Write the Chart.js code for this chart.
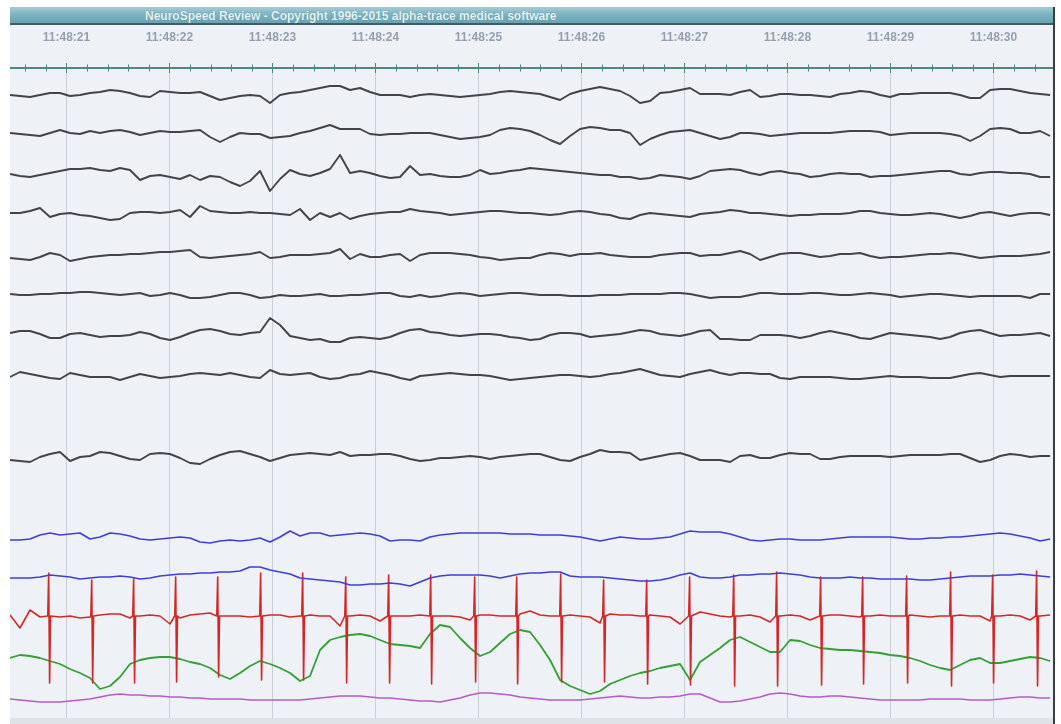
<!DOCTYPE html>
<html>
<head>
<meta charset="utf-8">
<script src="https://cdn.jsdelivr.net/npm/chart.js@4/dist/chart.umd.min.js"></script>
<style>
  html, body { margin: 0; padding: 0; background: #ffffff; width: 1061px; height: 724px; overflow: hidden; }
  #frame { position: absolute; left: 10px; top: 7px; width: 1043px; height: 717px; background: #dfe3e8; border-right: 2px solid #3a3f44; }
  #plotbg { position: absolute; left: 0; top: 0; width: 1043px; height: 711px; background: #eef1f5; }
  #title { position: absolute; left: 0; top: 0; width: 1043px; height: 18px;
           background: linear-gradient(#a3ccd6, #7db4c1 45%, #68a2b2);
           border-bottom: 2px solid #3f5d65;
           font: bold 12px "Liberation Sans", Arial, sans-serif; color: #e4f1f5;
           line-height: 18px; padding-left: 135px; box-sizing: border-box; white-space: nowrap;
           text-shadow: 0 0 1px rgba(60,100,110,0.6); }
  #wrap { position: absolute; left: 10px; top: 27px; width: 1043px; height: 691px; }
</style>
</head>
<body>
<div id="frame"><div id="plotbg"></div><div id="title">NeuroSpeed Review - Copyright 1996-2015 alpha-trace medical software</div></div>
<div id="wrap"><canvas id="c"></canvas></div>
<script>
// ---- time axis (seconds after 11:48:00) ----
const TICK_SECONDS = [21, 22, 23, 24, 25, 26, 27, 28, 29, 30];
const TIME_LABELS = ["11:48:21","11:48:22","11:48:23","11:48:24","11:48:25","11:48:26","11:48:27","11:48:28","11:48:29","11:48:30"];
const VIEW_START = 20.4515, VIEW_END = 30.578;
const SAMPLE_START = 20.4515, SAMPLE_STEP = 0.0971;

// ---- channel traces (amplitude per sample, up = positive) ----
const EEG1 = [0,-1,-2,0,2,2,-1,0,2,3, 5,4,2,-1,-2,4,3,2,2,3, -1,-5,-3,-1,0,-1,-8,0,2,3, 5,7,9,9,5,7,3,0,0,0, -2,0,1,0,-1,-2,-1,0,1,3, 4,3,2,1,-2,-5,1,4,6,8, 6,4,-1,-8,-6,2,3,5,7,1, 1,1,0,3,5,-2,-1,1,1,0, 0,-1,-2,1,2,4,3,0,-2,1, 1,2,2,2,2,0,-3,-3,5,6, 6,4,2,1,0];
const EEG2 = [0,-1,-2,-3,0,3,0,-1,2,0, 2,3,1,-2,0,2,1,1,2,3, -4,-9,-4,0,-1,-1,-5,-4,-3,0, 2,5,8,4,4,4,-1,-2,-1,-1, 0,0,0,-2,-4,-6,-5,-4,-2,3, 5,4,2,-2,-7,-11,-3,4,6,5, 3,3,0,-12,-6,-2,1,2,3,0, -3,-6,-4,0,0,-1,-3,-2,-1,0, 0,0,0,1,2,2,2,1,-2,-1, 0,0,0,0,-1,-3,-8,-3,4,5, 4,0,0,2,-3];
const EEG3 = [-1,-3,-4,-2,0,2,4,4,5,3, 2,5,3,-7,-3,-2,-4,-6,-2,-7, -3,-4,-9,-13,-8,2,-18,-6,3,-1, -3,0,4,18,0,2,0,-3,-5,-4, 7,-2,-1,-3,-4,-4,-2,3,-1,0, 2,3,5,4,3,2,1,0,-1,-2, -2,-4,-4,-6,-5,-2,-3,-4,-6,-3, 2,3,4,3,0,-2,1,2,0,-1, -4,-3,-1,0,-1,-1,-4,-3,-3,-2, -1,0,1,2,2,-1,-2,0,1,1, 0,0,-1,-4,-4];
const EEG4 = [0,0,2,5,-4,-1,0,-2,-3,-5, -7,-6,0,1,1,0,1,3,-4,7, 2,1,0,0,1,0,0,-1,-2,4, -7,0,-4,0,-6,-3,-1,0,1,1, 4,2,1,0,-2,-1,0,1,2,2, 1,0,0,-1,-2,-1,1,2,1,-1, -2,-5,-6,-2,0,-1,-2,-3,-4,-1, 0,1,3,2,0,0,-1,-2,-3,-2, -2,-1,-1,-1,0,2,2,0,-1,-2, -2,-1,0,-1,-3,-5,-3,0,1,-1, -3,-1,0,0,-2];
const EEG5 = [-2,-3,-4,-1,3,1,-5,-3,-1,0, 1,1,2,2,3,4,4,5,6,-1, -2,-1,0,1,2,4,-2,-1,1,1, 1,2,3,7,-3,2,-1,-1,1,2, -5,1,3,3,3,2,1,-1,-2,-4, -3,-2,-2,1,3,2,0,2,2,3, 1,0,-1,-1,-1,1,2,3,3,0, 1,1,3,5,2,-4,-1,2,3,3, 1,-1,0,2,2,3,0,-2,-1,-1, 0,1,2,2,3,2,0,-2,-1,0, 0,0,1,2,4];
const EEG6 = [1,0,0,1,1,2,2,3,3,2, 1,0,1,2,-1,0,2,0,-3,-3, -2,0,2,2,0,-3,-2,0,-1,-1, 0,1,-1,-1,0,0,1,2,2,-1, -2,0,-2,-1,1,2,1,-1,0,1, 2,2,1,0,0,0,-1,-1,-1,0, 0,0,1,1,1,1,2,2,1,-1, -3,-2,-2,-2,0,2,2,1,1,1, 2,2,1,0,0,1,2,1,0,-2, -1,0,1,1,0,-1,-2,-1,-1,-1, -1,-1,-3,1,1];
const EEG7 = [2,4,4,1,-3,-3,1,2,0,-2, -1,-1,0,3,1,-3,-5,-2,2,5, 6,4,1,0,2,3,17,10,-1,-3, -5,-4,-7,-7,-3,-2,-3,-4,-2,2, 5,6,3,2,0,-1,0,1,1,0, -2,-3,-5,-4,0,2,2,1,-2,-1, 0,1,3,5,4,1,0,-1,1,4, 5,-4,-4,-5,-5,0,0,0,-1,-3, -1,2,4,2,0,-3,-4,-1,2,1, 0,-1,-2,-4,-2,2,4,5,2,-1, 0,0,1,2,-1];
const EEG8 = [-1,4,2,0,-2,-3,3,1,-1,-1, -1,-4,-1,2,0,-2,-1,0,2,3, 2,1,3,1,-1,-2,6,2,1,2, 3,-1,-3,-2,1,2,5,3,1,-2, -4,0,1,2,3,2,1,1,0,-2, -4,-3,-2,-1,0,1,1,0,-1,0, 2,3,5,7,4,1,0,-1,2,4, 6,3,1,3,3,2,2,-2,-3,-1, -1,-1,-1,-2,-3,-3,-2,-1,0,-1, -1,-1,-2,-2,-2,0,2,3,1,-1, 0,0,0,0,0];
const EEG9 = [-3,-4,-5,0,3,5,-4,0,1,5, 4,1,-2,-3,3,4,3,-1,-6,-7, -2,2,5,6,3,0,-4,-1,2,3, 4,3,2,5,1,2,2,3,3,1, -2,-4,-3,-1,-1,0,1,0,-2,0, 1,2,3,3,0,-3,-4,0,3,7, 5,5,4,-3,-1,1,3,4,1,-3, -3,-3,-5,1,2,-1,-1,2,4,3, 3,-2,-2,0,1,1,1,1,0,1, 2,2,2,2,3,3,-1,-5,-3,1, 3,2,0,1,1];
const RESP1 = [-3,-3,-2,2,4,2,3,4,-2,0, 4,3,1,-2,-3,-2,-1,0,-1,-5, -6,-4,-3,-4,-3,-1,-5,0,6,1, 4,4,1,2,3,4,3,1,-4,-3, -3,-4,0,2,3,4,4,4,4,4, 3,3,3,2,2,2,1,0,-2,-4, -2,0,-1,-2,-2,-1,0,3,6,5, 5,5,3,0,-3,-4,-3,-2,-2,-3, -3,-3,-2,-1,0,0,0,0,0,-1, -2,-2,-1,-1,0,0,1,2,3,4, 3,1,-1,-4,-2];
const RESP2 = [-1,-1,-1,0,2,1,0,-2,-1,0, 0,1,0,-2,-1,1,2,3,3,4, 4,5,5,6,10,10,7,5,3,-1, -2,-3,-4,-5,-8,-8,-7,-7,-6,-7, -9,-5,-1,1,2,2,2,2,1,-1, 1,3,4,4,5,5,1,0,0,0, -1,-2,-3,-4,-4,-3,-1,2,4,0, -1,-1,0,2,2,3,3,4,3,2, 0,-1,-1,-1,0,-1,-1,-2,-2,-2, -2,-3,-3,-2,-1,0,1,1,1,2, 2,3,2,1,0];
const ECG_BASE = [1,-12,6,-1,1,-1,0,-2,-1,1, 2,2,-2,0,1,0,-8,-2,1,2, 3,1,0,0,-1,0,1,1,-1,0, 1,0,0,-10,0,1,0,-5,-1,0, 0,1,1,0,0,-1,-4,1,1,0, 0,2,5,1,0,-1,1,0,-1,-7, 2,1,1,0,1,0,-1,-8,3,4, 2,0,-1,0,1,-1,-6,0,1,0, -4,0,1,1,0,-1,0,1,0,0, 1,0,-1,0,-1,1,0,0,-5,0, 1,0,-4,0,1];
const ECG_BEATS = [20.830,21.248,21.655,22.063,22.471,22.888,23.296,23.714,24.131,24.539,24.966,25.374,25.801,26.218,26.636,27.053,27.481,27.898,28.325,28.733,29.160,29.587,29.995,30.422];
const ECG_R = [43,36,37,39,39,43,43,39,41,41,39,39,42,36,36,39,41,44,39,39,40,44,41,45];
const ECG_S = [-67,-67,-67,-66,-61,-64,-64,-67,-67,-68,-66,-68,-66,-66,-68,-69,-70,-70,-69,-68,-67,-70,-67,-70];
const PLETH = [-3,0,-1,-3,-6,-9,-14,-18,-23,-34, -31,-22,-9,-5,-3,-2,-2,-4,-7,-9, -13,-20,-24,-18,-11,-6,-9,-13,-18,-26, -21,5,15,18,20,21,19,15,11,10, 9,7,21,30,28,17,7,-1,3,12, 21,25,23,10,-5,-25,-31,-35,-39,-36, -29,-25,-21,-18,-16,-13,-11,-9,-25,-7, 0,7,15,18,13,8,3,3,15,14, 10,7,6,5,5,4,3,2,0,-1, -3,-6,-10,-13,-15,-10,-5,-3,-8,-8, -6,-4,-2,-3,-6];
const TEMP = [-1,-2,-3,-4,-4,-4,-3,-2,-1,1, 3,4,3,3,2,2,1,1,0,0, -1,-1,-1,-1,-2,-2,-2,-2,-2,-2, -1,0,1,2,2,2,1,0,0,-1, -2,-3,-3,-4,-2,0,3,5,5,4, 3,1,0,-1,-2,-2,-2,-2,-1,0, 1,2,1,0,0,1,1,2,4,4, 0,-4,-4,-3,-1,1,4,5,4,2, 1,1,2,2,1,0,-1,-2,-2,-2, -2,-2,-1,-1,-1,-1,-2,-2,-2,-1, 0,1,1,0,0];

// ---- montage: vertical offset of each channel (display units) and colours ----
const CHANNELS = [
  {name:"EEG1", values:EEG1, offset:623, color:"#46424a", width:1.9},
  {name:"EEG2", values:EEG2, offset:585, color:"#46424a", width:1.9},
  {name:"EEG3", values:EEG3, offset:545, color:"#46424a", width:1.9},
  {name:"EEG4", values:EEG4, offset:505, color:"#46424a", width:1.9},
  {name:"EEG5", values:EEG5, offset:462, color:"#46424a", width:1.9},
  {name:"EEG6", values:EEG6, offset:423, color:"#46424a", width:1.9},
  {name:"EEG7", values:EEG7, offset:383, color:"#46424a", width:1.9},
  {name:"EEG8", values:EEG8, offset:342, color:"#46424a", width:1.9},
  {name:"EEG9", values:EEG9, offset:261, color:"#46424a", width:1.9},
  {name:"RESP1", values:RESP1, offset:181, color:"#3f3fd6", width:1.7},
  {name:"RESP2", values:RESP2, offset:141, color:"#3f3fd6", width:1.7},
  {name:"PLETH", values:PLETH, offset:63, color:"#33a033", width:1.8},
  {name:"TEMP", values:TEMP, offset:20, color:"#b85ac9", width:1.7}
];
const ECG_OFFSET = 102, ECG_COLOR = "#d42828";

function sampleTime(i) { return SAMPLE_START + i * SAMPLE_STEP; }

const datasets = CHANNELS.map(ch => ({
  label: ch.name,
  data: ch.values.map((v, i) => ({x: sampleTime(i), y: ch.offset + v})),
  borderColor: ch.color,
  borderWidth: ch.width
}));

// ECG: baseline samples plus QRS complexes at the beat times
const ecgPts = [];
ECG_BASE.forEach((v, i) => {
  const t = sampleTime(i);
  if (!ECG_BEATS.some(b => t > b - 0.016 && t < b + 0.022)) ecgPts.push({x: t, y: ECG_OFFSET + v});
});
ECG_BEATS.forEach((b, k) => {
  ecgPts.push({x: b - 0.012, y: ECG_OFFSET});
  ecgPts.push({x: b - 0.003, y: ECG_OFFSET + ECG_R[k]});
  ecgPts.push({x: b + 0.006, y: ECG_OFFSET + ECG_S[k]});
  ecgPts.push({x: b + 0.015, y: ECG_OFFSET});
});
ecgPts.sort((a, b) => a.x - b.x);
datasets.splice(11, 0, {label: "ECG", data: ecgPts, borderColor: ECG_COLOR, borderWidth: 1.6});

// time ruler drawn just above the traces, using the x scale
const rulerPlugin = {
  id: "ruler",
  afterDraw(chart) {
    const xs = chart.scales.x, ctx = chart.ctx, top = chart.chartArea.top - 4;
    ctx.save();
    ctx.strokeStyle = "#4a8a80";
    ctx.lineWidth = 2;
    ctx.beginPath();
    ctx.moveTo(chart.chartArea.left, top);
    ctx.lineTo(chart.chartArea.right, top);
    ctx.stroke();
    ctx.lineWidth = 1;
    const first = Math.ceil(xs.min * 5);
    for (let k = first; k / 5 <= xs.max; k++) {
      const px = Math.round(xs.getPixelForValue(k / 5)) + 0.5;
      const h = (k % 5 === 0) ? 5 : 3.5;
      ctx.beginPath();
      ctx.moveTo(px, top - h);
      ctx.lineTo(px, top + h);
      ctx.stroke();
    }
    ctx.restore();
  }
};

new Chart(document.getElementById("c"), {
  type: "line",
  data: {datasets},
  options: {
    animation: false,
    responsive: true,
    maintainAspectRatio: false,
    parsing: false,
    normalized: true,
    layout: {padding: {top: 4, left: 0, right: 0, bottom: 0}},
    elements: {point: {radius: 0, hoverRadius: 0}, line: {tension: 0, borderJoinStyle: "round", fill: false}},
    plugins: {legend: {display: false}, tooltip: {enabled: false}},
    events: [],
    scales: {
      x: {
        type: "linear", position: "top", min: VIEW_START, max: VIEW_END,
        afterBuildTicks: s => { s.ticks = TICK_SECONDS.map(v => ({value: v})); },
        afterFit: s => { s.height = 41; },
        ticks: {
          autoSkip: false, maxRotation: 0, padding: 27, color: "#949fb0",
          font: {family: "'Liberation Sans', Arial, sans-serif", size: 12, weight: "bold"},
          callback: v => TIME_LABELS[TICK_SECONDS.indexOf(v)]
        },
        grid: {color: "#c6cfdb", lineWidth: 1, drawTicks: false},
        border: {display: false}
      },
      y: {type: "linear", display: false, min: 0, max: 646}
    }
  },
  plugins: [rulerPlugin]
});
</script>
</body>
</html>
